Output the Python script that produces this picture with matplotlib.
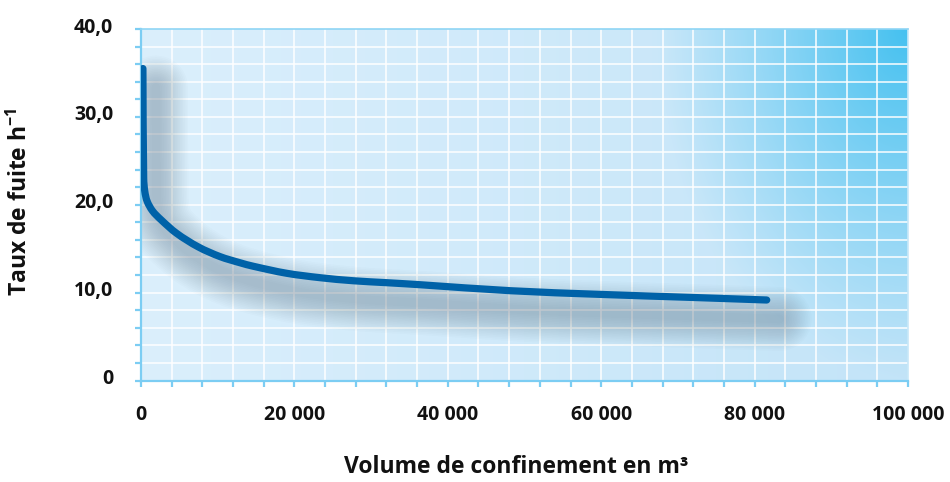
import numpy as np
import matplotlib
matplotlib.use("Agg")
import matplotlib.pyplot as plt
import matplotlib.transforms as mtransforms
from matplotlib.path import Path
from matplotlib.patches import PathPatch
from matplotlib.colors import to_rgb

# ---- data ----
volume = [250, 350, 500, 800, 1500, 2600, 4640, 7470, 10300, 12900, 14640, 19000,
          23340, 27690, 32040, 36380, 48110, 59840, 71580, 81580]
taux = [35.5, 23.0, 21.5, 20.4, 19.3, 18.3, 16.75, 15.2, 14.1, 13.4, 13.0, 12.2,
        11.7, 11.35, 11.13, 10.9, 10.22, 9.80, 9.46, 9.16]
x_major = [0, 20000, 40000, 60000, 80000, 100000]
x_labels = ["0", "20 000", "40 000", "60 000", "80 000", "100 000"]
y_major = [0, 10, 20, 30, 40]
y_labels = ["0", "10,0", "20,0", "30,0", "40,0"]

plt.rcParams['font.family'] = ['Open Sans', 'DejaVu Sans']
plt.rcParams['mathtext.fontset'] = 'custom'
plt.rcParams['mathtext.rm'] = 'Open Sans:bold'
plt.rcParams['mathtext.it'] = 'Open Sans:bold'
plt.rcParams['mathtext.bf'] = 'Open Sans:bold'

XMAX, YMAX = 100000, 40
fig = plt.figure(figsize=(9.5, 4.82), dpi=100)
ax = fig.add_axes([141/950, 1-380.5/482, (908-141)/950, (380.5-29)/482])
ax.set_xlim(0, XMAX)
ax.set_ylim(0, YMAX)

# background gradient
H, W = 200, 400
u = np.linspace(0, 1, W)[None, :]
v = np.linspace(0, 1, H)[:, None]
c_left = np.array(to_rgb('#dbeffc'))
c_right = np.array(to_rgb('#c3e4f8'))
c_corner = np.array(to_rgb('#45c1f0'))
base = c_left[None, None, :] * (1-u[..., None]) + c_right[None, None, :] * u[..., None]
d = np.sqrt(((1-u)/0.33)**2 + ((1-v)/1.0)**2)
t = np.clip(1-d, 0, 1)**1.1
img = base*(1-t[..., None]) + c_corner[None, None, :]*t[..., None]
ax.imshow(img, extent=(0, 1, 0, 1), transform=ax.transAxes, origin='lower',
          aspect='auto', zorder=0, interpolation='bilinear')

# grid
for gx in np.arange(4000, XMAX, 4000):
    ax.axvline(gx, color='white', lw=1.2, alpha=0.9, zorder=1)
for gy in np.arange(2, YMAX, 2):
    ax.axhline(gy, color='white', lw=1.2, alpha=0.9, zorder=1)

# smooth path through the data points (cubic Bezier, limited tangents)
sx, sy = 767.0/XMAX, 351.5/YMAX
P = np.column_stack([np.array(volume)*sx, np.array(taux)*sy])
n = len(P)
T = np.zeros_like(P)
for i in range(n):
    a = P[max(i-1, 0)]
    b = P[min(i+1, n-1)]
    dv = b - a
    nv = np.linalg.norm(dv)
    T[i] = dv/nv if nv > 0 else 0
verts = [P[0]]
codes = [Path.MOVETO]
for i in range(n-1):
    L = np.linalg.norm(P[i+1]-P[i])
    l0 = L/3.0
    c1 = P[i] + (P[i+1]-P[i])/3.0 if i == 0 else P[i] + T[i]*l0
    c2 = P[i+1] - (P[i+1]-P[i])/3.0 if i+1 == n-1 else P[i+1] - T[i+1]*l0
    verts += [c1, c2, P[i+1]]
    codes += [Path.CURVE4]*3
verts = np.array(verts)
verts[:, 0] /= sx
verts[:, 1] /= sy
curve = Path(verts, codes)

# shadow
for w in np.linspace(46, 6, 18):
    tr = mtransforms.offset_copy(ax.transData, fig=fig, x=13, y=-19, units='dots')
    ax.add_patch(PathPatch(curve, fill=False, edgecolor='#4a6274', lw=w, alpha=0.02,
                           capstyle='round', joinstyle='round', transform=tr, zorder=2))

# main curve
ax.add_patch(PathPatch(curve, fill=False, edgecolor='#0062a8', lw=5.2,
                       capstyle='round', joinstyle='round', zorder=3))

# spines
for s in ['left', 'bottom']:
    ax.spines[s].set_color('#7ccdf3')
    ax.spines[s].set_linewidth(1.6)
ax.spines['top'].set_color('#8fd5f5')
ax.spines['top'].set_linewidth(1.2)
ax.spines['right'].set_color('#c8e8f8')
ax.spines['right'].set_linewidth(1.2)

ax.set_xticks(x_major)
ax.set_xticklabels(x_labels)
ax.set_yticks(y_major)
ax.set_yticklabels(y_labels)
ax.set_xticks(np.arange(0, XMAX+1, 4000), minor=True)
ax.set_yticks(np.arange(0, YMAX+1, 2), minor=True)
ax.tick_params(which='both', direction='out', length=4, width=1.6, color='#7ccdf3')
ax.tick_params(axis='x', which='major', pad=14, labelsize=14)
ax.tick_params(axis='y', which='major', pad=16, labelsize=14)
for lab in ax.get_xticklabels() + ax.get_yticklabels():
    lab.set_fontweight('bold')
    lab.set_color('#111111')
off = mtransforms.ScaledTranslation(0, 4/100, fig.dpi_scale_trans)
for lab in ax.get_yticklabels():
    lab.set_transform(lab.get_transform() + off)

fig.text(516/950, 1-467/482, "Volume de confinement en m³", ha='center', va='center',
         fontsize=16.5, fontweight='bold', color='#111111')
fig.text(20/950, 1-202/482, r"Taux de fuite h$^{\mathregular{-1}}$", ha='center', va='center',
         rotation=90, fontsize=16.5, fontweight='bold', color='#111111')

fig.savefig('out.png', dpi=100, facecolor='white')
